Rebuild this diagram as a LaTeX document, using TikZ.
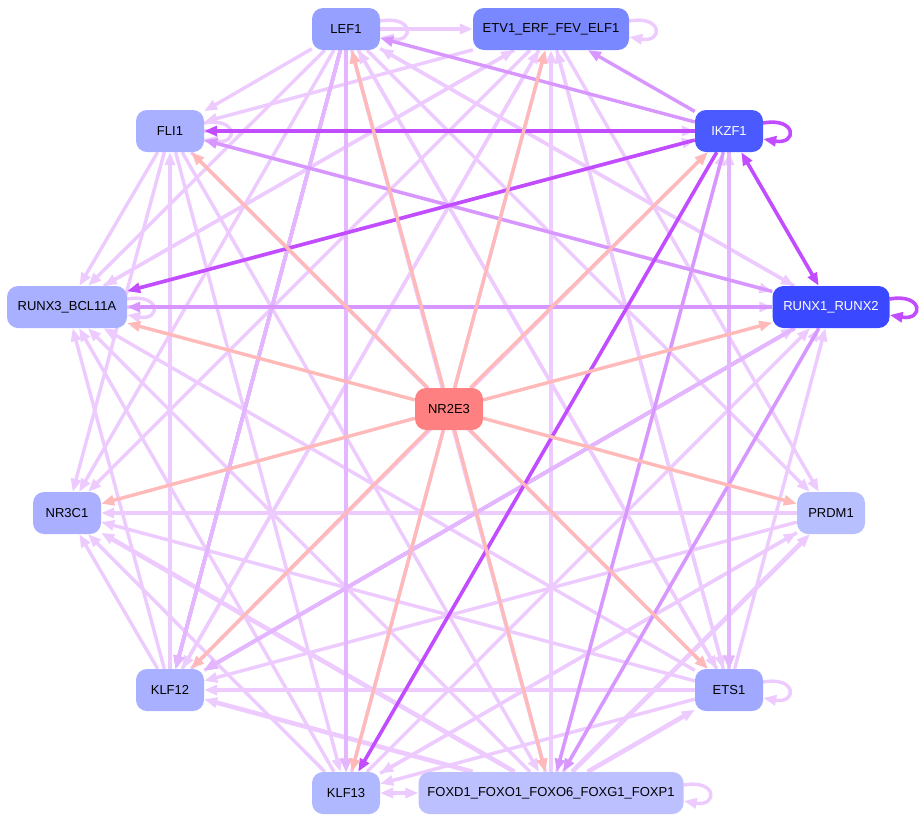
\documentclass[tikz,border=0pt]{standalone}
\usepackage{fontspec}
\setmainfont{Liberation Sans}
\usetikzlibrary{arrows.meta}
\pgfdeclarelayer{bg}
\pgfdeclarelayer{paper}
\pgfsetlayers{paper,bg,main}
\definecolor{cLight}{HTML}{EDCBFF}
\definecolor{cLMed}{HTML}{E3B6FF}
\definecolor{cMed}{HTML}{D896FF}
\definecolor{cStrong}{HTML}{C24CFF}
\definecolor{cSalmon}{HTML}{FFB9B9}
\tikzset{
  x=1pt, y=-1pt,
  tf/.style={rectangle, rounded corners=11pt, minimum height=42pt, minimum width=68pt,
    inner xsep=6pt, font=\fontsize{13}{15}\selectfont, text=black},
  arr/.style={-{Triangle[length=13pt,width=10pt]}, line width=3.4pt},
  elight/.style={arr, draw=cLight},
  elmed/.style={arr, draw=cLMed},
  ethick/.style={arr, draw=cLight, line width=4.6pt},
  emed/.style={arr, draw=cMed},
  estrong/.style={arr, draw=cStrong, line width=3.6pt},
  esal/.style={arr, draw=cSalmon},
}
\newcommand{\selfloop}[2]{\draw[#1] ([yshift=8pt]#2.east) .. controls +(34pt,6pt) and +(34pt,-6pt) .. ([yshift=-8pt]#2.east);}
\begin{document}
\begin{tikzpicture}
\begin{pgfonlayer}{paper}
\fill[white] (0,0) rectangle (922,823);
\end{pgfonlayer}
\useasboundingbox (0,0) rectangle (922,823);
% nodes
\node[tf, fill={rgb,255:red,150;green,160;blue,255}] (LEF1) at (346,29) {LEF1};
\node[tf, fill={rgb,255:red,122;green,136;blue,255}, minimum width=156pt] (ETV1) at (551,29) {ETV1\_ERF\_FEV\_ELF1};
\node[tf, fill={rgb,255:red,168;green,176;blue,255}] (FLI1) at (170,131) {FLI1};
\node[tf, fill={rgb,255:red,74;green,90;blue,255}, text=white] (IKZF1) at (729,131) {IKZF1};
\node[tf, fill={rgb,255:red,168;green,176;blue,255}, minimum width=120pt] (RUNX3) at (67,307) {RUNX3\_BCL11A};
\node[tf, fill={rgb,255:red,58;green,72;blue,255}, text=white, minimum width=117pt] (RUNX1) at (831,307) {RUNX1\_RUNX2};
\node[tf, fill={rgb,255:red,255;green,128;blue,128}] (NR2E3) at (449,409) {NR2E3};
\node[tf, fill={rgb,255:red,170;green,176;blue,255}] (NR3C1) at (67,513) {NR3C1};
\node[tf, fill={rgb,255:red,184;green,191;blue,255}] (PRDM1) at (831,513) {PRDM1};
\node[tf, fill={rgb,255:red,168;green,176;blue,255}] (KLF12) at (170,690) {KLF12};
\node[tf, fill={rgb,255:red,160;green,168;blue,255}] (ETS1) at (729,690) {ETS1};
\node[tf, fill={rgb,255:red,176;green,184;blue,255}] (KLF13) at (346,793) {KLF13};
\node[tf, fill={rgb,255:red,188;green,192;blue,255}, minimum width=265pt] (FOXD1) at (551,793) {FOXD1\_FOXO1\_FOXO6\_FOXG1\_FOXP1};

\begin{pgfonlayer}{bg}
% light edges
\foreach \s/\t in {LEF1/ETV1, LEF1/FLI1, LEF1/RUNX3, LEF1/NR3C1, LEF1/RUNX1, LEF1/PRDM1, LEF1/ETS1, LEF1/FOXD1, RUNX1/LEF1,
  ETV1/FLI1, ETV1/RUNX3, ETV1/NR3C1, ETV1/KLF12, ETV1/PRDM1, ETV1/ETS1,
  FLI1/IKZF1, FLI1/RUNX3, FLI1/NR3C1, FLI1/KLF13, FLI1/FOXD1, FLI1/RUNX1, FLI1/ETS1,
  RUNX3/ETV1, RUNX3/IKZF1, RUNX3/RUNX1,
  PRDM1/NR3C1, PRDM1/KLF12, PRDM1/KLF13,
  ETS1/KLF12, ETS1/NR3C1, ETS1/RUNX3, ETS1/KLF13, ETS1/IKZF1, ETS1/RUNX1, ETS1/ETV1, ETS1/LEF1,
  FOXD1/RUNX3, FOXD1/RUNX1, FOXD1/IKZF1, FOXD1/LEF1,
  KLF12/FLI1, KLF12/RUNX3, KLF12/NR3C1, KLF12/RUNX1, KLF12/IKZF1, KLF12/ETV1,
  KLF13/NR3C1, KLF13/RUNX3, KLF13/ETV1, KLF13/RUNX1, KLF13/PRDM1}
  \draw[elight] (\s) -- (\t);
\draw[elight, {Triangle[length=13pt,width=10pt]}-{Triangle[length=13pt,width=10pt]}] (KLF13) -- (FOXD1);
\foreach \s/\t in {FOXD1/KLF12, FOXD1/NR3C1, FOXD1/ETS1, FOXD1/PRDM1, FOXD1/ETV1}
  \draw[ethick] (\s) -- (\t);
% self loops
\foreach \n in {LEF1, ETV1, FLI1, RUNX3, ETS1, FOXD1}
  \selfloop{elight}{\n}
% light-medium
\foreach \s/\t in {LEF1/KLF13, LEF1/KLF12, IKZF1/ETS1, RUNX1/KLF12}
  \draw[elmed] (\s) -- (\t);
% medium
\foreach \s/\t in {IKZF1/LEF1, IKZF1/ETV1, RUNX1/RUNX3, RUNX1/FLI1, IKZF1/FOXD1, RUNX1/FOXD1}
  \draw[emed] (\s) -- (\t);
% strong
\foreach \s/\t in {IKZF1/FLI1, IKZF1/RUNX3, IKZF1/KLF13}
  \draw[estrong] (\s) -- (\t);
\draw[estrong, {Triangle[length=13pt,width=10pt]}-{Triangle[length=13pt,width=10pt]}] (IKZF1) -- (RUNX1);
\selfloop{estrong}{IKZF1}
\selfloop{estrong}{RUNX1}
% salmon
\foreach \t in {LEF1, ETV1, FLI1, IKZF1, RUNX3, RUNX1, NR3C1, PRDM1, KLF12, ETS1, KLF13, FOXD1}
  \draw[esal] (NR2E3) -- (\t);
\end{pgfonlayer}
\end{tikzpicture}
\end{document}
